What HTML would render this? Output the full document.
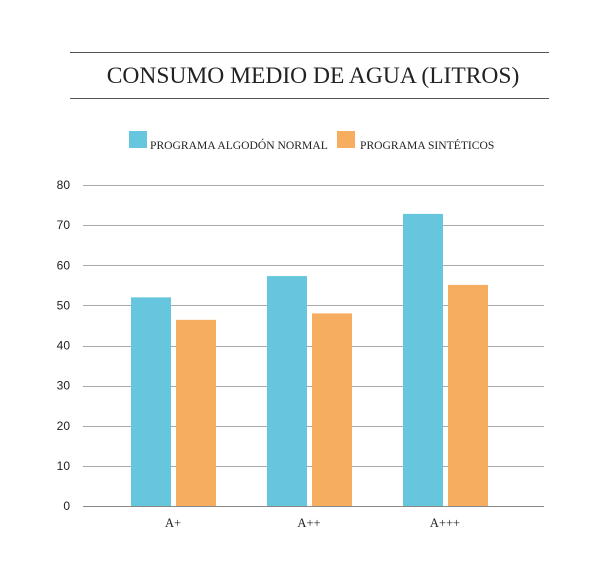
<!DOCTYPE html>
<html><head><meta charset="utf-8"><style>
body{margin:0;background:#fff;}
svg{display:block;font-family:"Liberation Serif",serif;}
</style></head><body>
<svg id="chart" width="600" height="578">
<line x1="70" y1="52.5" x2="549" y2="52.5" stroke="#555"/>
<line x1="70" y1="98.5" x2="549" y2="98.5" stroke="#555"/>
<text x="313" y="83" text-anchor="middle" font-size="23.5" fill="#222">CONSUMO MEDIO DE AGUA (LITROS)</text>
<g>
<rect x="129" y="131" width="18" height="17" fill="#66c6dd"/>
<text x="150" y="149" font-size="11.6" fill="#222">PROGRAMA ALGODÓN NORMAL</text>
<rect x="337" y="131" width="18" height="17" fill="#f6ad5f"/>
<text x="360" y="149" font-size="11.6" fill="#222">PROGRAMA SINTÉTICOS</text>
</g>
<g id="grid"></g><g id="bars"></g><g id="labels"></g>
</svg>
<script>
const categories=["A+","A++","A+++"];
const normalValues=[52,57.3,72.8];
const syntheticValues=[46.4,48,55.1];
const yTicks=[0,10,20,30,40,50,60,70,80];
const NS="http://www.w3.org/2000/svg";
const y=v=>506-v*4.0125;
const x=i=>173+i*136;
function mk(t,a,p){const e=document.createElementNS(NS,t);for(const k in a)e.setAttribute(k,a[k]);p.appendChild(e);return e;}
const grid=document.getElementById('grid'),bars=document.getElementById('bars'),labels=document.getElementById('labels');
yTicks.forEach(v=>{
 const l=mk('line',{x1:83,x2:544,y1:Math.round(y(v))+0.5,y2:Math.round(y(v))+0.5,stroke:v===0?'#888':'#aaa'},grid);
 
 
 const t=mk('text',{x:70,y:y(v)+4,'text-anchor':'end','font-size':12,fill:'#222','font-family':'Liberation Sans, sans-serif'},labels);
 t.textContent=v;
 
 
});
categories.forEach((c,i)=>{
 const b1=mk('rect',{x:x(i)-42,y:y(normalValues[i]),width:40,height:506-y(normalValues[i]),fill:'#66c6dd'},bars);
 
 
 const b2=mk('rect',{x:x(i)+3,y:y(syntheticValues[i]),width:40,height:506-y(syntheticValues[i]),fill:'#f6ad5f'},bars);
 
 
 const t=mk('text',{x:x(i),y:527,'text-anchor':'middle','font-size':12.5,fill:'#222'},labels);
 t.textContent=c;
 
 
});
</script>
</body></html>
